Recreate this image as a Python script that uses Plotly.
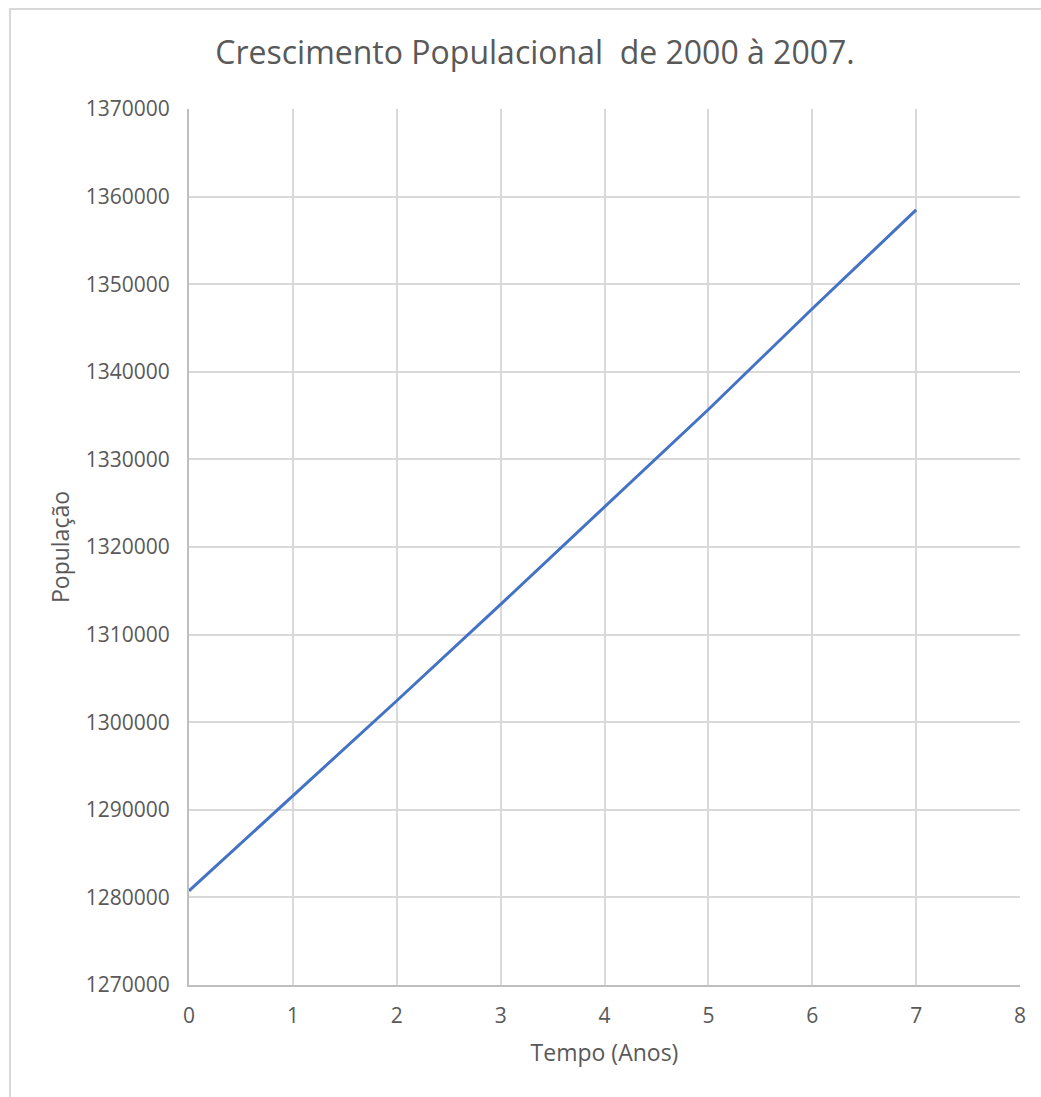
import plotly.graph_objects as go

# Population growth, 2000-2007 (year index 0..7)
anos = [0, 1, 2, 3, 4, 5, 6, 7]
populacao = [1280750, 1291550, 1302450, 1313450, 1324620, 1335700, 1347200, 1358480]

x_ticks = [0, 1, 2, 3, 4, 5, 6, 7, 8]
y_ticks = [1270000, 1280000, 1290000, 1300000, 1310000, 1320000,
           1330000, 1340000, 1350000, 1360000, 1370000]

W, H = 1041, 1097
L, R, T, B = 189, 21, 109, 112
PW, PH = W - L - R, H - T - B


def px_x(p):
    return (p - L) / PW


def px_y(p):
    return (H - B - p) / PH


FONT = "Open Sans"
GREY = "#595959"
GRID = "#D9D9D9"

fig = go.Figure()
fig.add_trace(go.Scatter(
    x=anos, y=populacao, mode="lines",
    line=dict(color="#4472C4", width=3),
    showlegend=False, hoverinfo="x+y",
))

fig.update_layout(
    width=W, height=H,
    margin=dict(l=L, r=R, t=T, b=B),
    paper_bgcolor="white", plot_bgcolor="white",
    font=dict(family=FONT, color=GREY),
    title=dict(
        text="Crescimento Populacional  de 2000 à 2007.",
        font=dict(family=FONT, size=32, color=GREY),
        x=535 / W, xanchor="center", y=1 - 53 / H, yanchor="middle",
    ),
    xaxis=dict(
        range=[0, 8], tickvals=x_ticks, ticktext=[str(v) for v in x_ticks],
        showgrid=True, gridcolor=GRID, gridwidth=2,
        zeroline=False, showline=True, linecolor="#BFBFBF", linewidth=2,
        ticks="", ticklabelstandoff=11,
        tickfont=dict(family=FONT, size=21, color=GREY),
        title=dict(text="Tempo (Anos)", standoff=17,
                   font=dict(family=FONT, size=23, color=GREY)),
        mirror=False,
    ),
    yaxis=dict(
        range=[1270000, 1370000], tickvals=y_ticks,
        ticktext=[str(v) for v in y_ticks],
        showgrid=True, gridcolor=GRID, gridwidth=2,
        zeroline=False, showline=True, linecolor="#BFBFBF", linewidth=2,
        ticks="", ticklabelstandoff=13,
        tickfont=dict(family=FONT, size=21, color=GREY),
        title=dict(text="População", standoff=10,
                   font=dict(family=FONT, size=23, color=GREY)),
    ),
    shapes=[
        # outer chart frame
        dict(type="rect", xref="paper", yref="paper",
             x0=px_x(10), x1=px_x(1080), y0=px_y(1120), y1=px_y(9),
             line=dict(color=GRID, width=2), fillcolor="rgba(0,0,0,0)",
             layer="below"),
    ],
)

fig.write_html("out.html")
